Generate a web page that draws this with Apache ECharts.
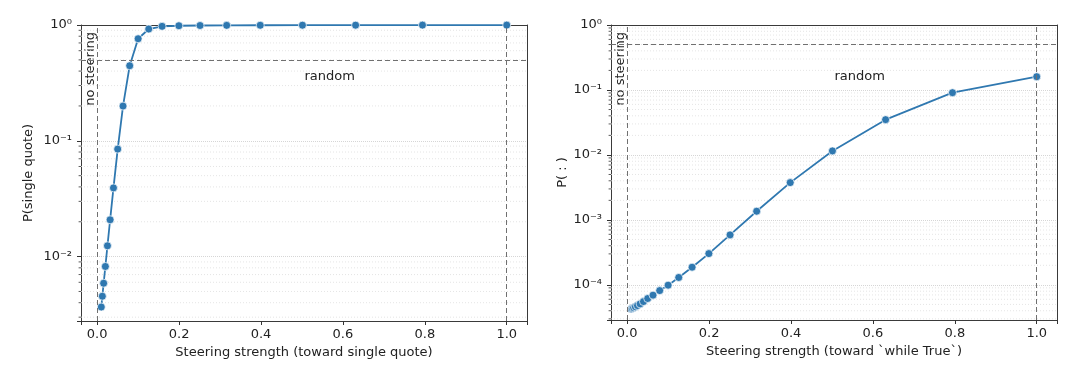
<!DOCTYPE html>
<html>
<head>
<meta charset="utf-8">
<script src="https://cdn.jsdelivr.net/npm/echarts@6/dist/echarts.min.js"></script>
<style>html,body{margin:0;padding:0;background:#fff;}#c{width:1080px;height:383px;}</style>
</head>
<body>
<div id="c"></div>
<script>
// ---- data ----
const strengths = [0.01, 0.0126, 0.0158, 0.02, 0.0251, 0.0316, 0.0398, 0.0501, 0.0631, 0.0794, 0.1, 0.1259, 0.1585, 0.1995, 0.2512, 0.3162, 0.3981, 0.5012, 0.631, 0.7943, 1.0];
const pSingleQuote = [0.00367, 0.00455, 0.00589, 0.00822, 0.0124, 0.0208, 0.0392, 0.0848, 0.1995, 0.445, 0.761, 0.923, 0.974, 0.985, 0.99, 0.993, 0.995, 0.996, 0.997, 0.998, 0.998];
const pColon = [4.25e-5, 4.35e-5, 4.45e-5, 4.6e-5, 4.8e-5, 5.1e-5, 5.53e-5, 6.17e-5, 6.95e-5, 8.17e-5, 9.9e-5, 1.30e-4, 1.87e-4, 3.03e-4, 5.88e-4, 1.36e-3, 3.75e-3, 1.153e-2, 3.49e-2, 9.08e-2, 0.160];
const xTickLabels = ['0.0', '0.2', '0.4', '0.6', '0.8', '1.0'];
const randomLevel = 0.5;
const noSteeringX = 0;
const maxSteeringX = 1;
const xLabels = ['Steering strength (toward single quote)', 'Steering strength (toward `while True`)'];
const yLabels = ['P(single quote)', 'P( : )'];
const yMins = [0.00278, 2.88e-5];
const minorDecades = [[-3, -2, -1], [-5, -4, -3, -2, -1]];

const FONT = 'DejaVu Sans';
const BLUE = '#2f78b0';
const SPINE = '#3a3a3a';
const SUP = {'-': '\u207B', '0': '\u2070', '1': '\u00B9', '2': '\u00B2', '3': '\u00B3', '4': '\u2074', '5': '\u2075', '6': '\u2076', '7': '\u2077', '8': '\u2078', '9': '\u2079'};
function supStr(n) { return String(n).split('').map(c => SUP[c]).join(''); }
function yFmt(v) {
  const l = Math.log10(v), e = Math.round(l);
  if (Math.abs(l - e) > 1e-6) return '';
  return '10' + supStr(e);
}
function xFmt(v) {
  const r = Math.round(v / 0.2);
  if (Math.abs(v / 0.2 - r) > 1e-6) return '';
  return xTickLabels[r] !== undefined ? xTickLabels[r] : '';
}

const chart = echarts.init(document.getElementById('c'), null, {renderer: 'canvas'});
const grids = [
  {left: 81, top: 25, width: 446, height: 296},
  {left: 611, top: 25, width: 446, height: 295}
];
const spine = {show: true, onZero: false, lineStyle: {color: SPINE, width: 1}};
function xAxis(i) {
  return {
    type: 'value', gridIndex: i, min: -0.0395, max: 1.0495, splitNumber: 5,
    axisLine: spine, splitLine: {show: false},
    axisTick: {show: true, length: 4, inside: false, lineStyle: {color: '#333', width: 1}},
    axisLabel: {formatter: xFmt, color: '#222', fontFamily: FONT, fontSize: 13, margin: 7},
    name: xLabels[i], nameLocation: 'middle', nameGap: 25,
    nameTextStyle: {fontFamily: FONT, fontSize: 13, color: '#222'}
  };
}
function xTop(i) {
  return {type: 'value', gridIndex: i, position: 'top', min: 0, max: 1,
    axisLine: spine, axisTick: {show: false}, axisLabel: {show: false}, splitLine: {show: false}};
}
function yAxis(i) {
  return {
    type: 'log', logBase: 10, gridIndex: i, min: yMins[i], max: 1,
    axisLine: spine,
    splitLine: {show: true, lineStyle: {color: '#d6d6d6', type: 'dotted', width: 1}},
    axisTick: {show: true, length: 4, lineStyle: {color: '#333', width: 1}},
    axisLabel: {formatter: yFmt, color: '#222', fontFamily: FONT, fontSize: 13, margin: 9},
    name: yLabels[i], nameLocation: 'middle', nameGap: i === 0 ? 46 : 40,
    nameTextStyle: {fontFamily: FONT, fontSize: 13, color: '#222'}
  };
}
function yRight(i) {
  return {type: 'value', gridIndex: i, position: 'right', min: 0, max: 1,
    axisLine: spine, axisTick: {show: false}, axisLabel: {show: false}, splitLine: {show: false}};
}
function minorData(i) {
  const out = [];
  minorDecades[i].forEach(d => { for (let m = 2; m <= 9; m++) out.push([0, m * Math.pow(10, d)]); });
  return out;
}
function minorSeries(i) {
  return {
    type: 'custom', xAxisIndex: i, yAxisIndex: i, silent: true, z: 1, clip: false,
    data: minorData(i), encode: {x: 0, y: 1},
    renderItem: function (params, api) {
      const cs = params.coordSys;
      const y = api.coord([0, api.value(1)])[1];
      if (y < cs.y + 0.5 || y > cs.y + cs.height - 0.5) return null;
      return {type: 'group', children: [
        {type: 'line', shape: {x1: cs.x, y1: y, x2: cs.x + cs.width, y2: y}, style: {stroke: '#dedede', lineWidth: 0.8, lineDash: [1, 2]}},
        {type: 'line', shape: {x1: cs.x - 2.4, y1: y, x2: cs.x, y2: y}, style: {stroke: '#333', lineWidth: 0.8}}
      ]};
    }
  };
}
function mainSeries(i, values) {
  return {
    type: 'line', xAxisIndex: i, yAxisIndex: i, z: 3,
    data: strengths.map((s, k) => [s, values[k]]),
    symbol: 'circle', symbolSize: 8, showSymbol: true,
    lineStyle: {color: BLUE, width: 1.8},
    itemStyle: {color: BLUE, borderColor: '#fff', borderWidth: 0.7},
    markLine: {
      silent: true, symbol: ['none', 'none'], animation: false,
      lineStyle: {color: '#707070', type: [5, 3], width: 1},
      label: {show: false},
      data: [{yAxis: randomLevel}, {xAxis: noSteeringX}, {xAxis: maxSteeringX}]
    }
  };
}
chart.setOption({
  animation: false,
  grid: grids,
  xAxis: [xAxis(0), xAxis(1), xTop(0), xTop(1)],
  yAxis: [yAxis(0), yAxis(1), yRight(0), yRight(1)],
  series: [minorSeries(0), minorSeries(1), mainSeries(0, pSingleQuote), mainSeries(1, pColon)]
});

// annotation texts placed relative to the data scales
const g = [];
[0, 1].forEach(i => {
  const p0 = chart.convertToPixel({gridIndex: i}, [noSteeringX, 1]);
  const pr = chart.convertToPixel({gridIndex: i}, [0.5, 1]);
  g.push({type: 'text', x: p0[0] - 7, y: grids[i].top + 7, rotation: Math.PI / 2,
    style: {text: 'no steering', fontFamily: FONT, fontSize: 13, fill: '#222', align: 'right', verticalAlign: 'middle'}});
  g.push({type: 'text', x: pr[0] + 2.5, y: grids[i].top + 52,
    style: {text: 'random', fontFamily: FONT, fontSize: 13, fill: '#222', align: 'left', verticalAlign: 'middle'}});
});
chart.setOption({graphic: g});
</script>
</body>
</html>
